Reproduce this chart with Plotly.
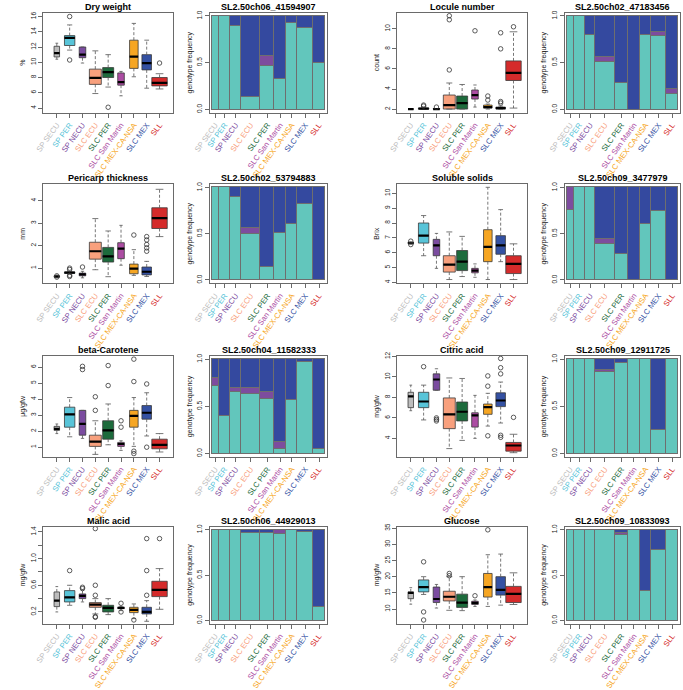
import math
import plotly.graph_objects as go

W, H = 683, 690

# ---------------- categories ----------------
groups = ["SP SECU", "SP PER", "SP NECU", "SLC ECU", "SLC PER",
          "SLC San Martin", "SLC MEX-CA-NSA", "SLC MEX", "SLL"]
group_colors = ["#BDBDBD", "#58C4D8", "#7B4CA0", "#F8A07D", "#1D6B3C",
                "#AC4DA3", "#F6A623", "#3451A3", "#D52B2B"]
# sample sizes (box widths ~ sqrt(n); mosaic bar widths ~ n)
box_n = [7, 25, 10, 33, 28, 10, 17, 21, 55]
bar_n = [6, 10, 9, 17, 12, 10, 10, 13, 11]

# ---------------- boxplot data: [lower whisker, q1, median, q3, upper whisker] ----------------
dry_stats = [[10.4, 10.7, 11.2, 12.1, 12.5], [11.6, 12.2, 13.2, 13.5, 14.9], [9.9, 10.6, 11.0, 12.0, 12.0],
             [5.9, 7.1, 7.95, 9.1, 11.5], [6.75, 8.0, 8.7, 9.3, 11.0], [5.6, 7.0, 7.4, 8.6, 8.8],
             [8.1, 9.2, 10.75, 12.9, 15.1], [6.6, 9.0, 9.9, 11.0, 12.9], [6.5, 6.9, 7.3, 8.0, 8.5]]
dry_out = [[], [16.0, 10.3], [], [], [4.1], [], [], [], [9.9]]

loc_stats = [[2.0, 2.0, 2.0, 2.0, 2.0], [2.0, 2.0, 2.05, 2.1, 2.2], [2.0, 2.0, 2.0, 2.05, 2.05],
             [2.0, 2.0, 2.4, 3.4, 4.6], [2.0, 2.0, 2.6, 3.3, 4.45], [2.2, 3.0, 3.4, 3.9, 4.4],
             [2.0, 2.1, 2.2, 2.4, 2.5], [2.0, 2.0, 2.1, 2.2, 2.3], [2.1, 4.85, 5.6, 6.8, 9.7]]
loc_out = [[], [2.3, 2.4], [2.2], [5.9, 10.9, 11.3], [], [9.8], [2.9, 3.3], [2.6, 2.75, 8.0, 9.6], [10.2]]

per_stats = [[0.6, 0.6, 0.63, 0.66, 0.66], [0.75, 0.77, 0.8, 0.83, 0.86], [0.57, 0.66, 0.72, 0.78, 0.86],
             [0.93, 1.4, 1.75, 2.15, 3.2], [0.62, 1.27, 1.52, 1.92, 2.65], [1.13, 1.42, 1.87, 2.13, 2.9],
             [0.68, 0.75, 0.98, 1.18, 1.82], [0.63, 0.7, 0.84, 1.05, 1.3], [2.4, 2.76, 3.22, 3.68, 4.5]]
per_out = [[0.6, 0.66], [1.0, 0.94, 0.68, 0.63], [1.05], [], [], [], [2.47],
           [1.75, 1.9, 2.05, 2.25, 2.4], []]

sol_stats = [[6.6, 6.6, 6.65, 6.72, 6.72], [5.8, 6.65, 7.15, 8.0, 8.5], [4.95, 5.8, 6.5, 6.9, 7.3],
             [4.2, 4.7, 5.2, 5.8, 7.4], [4.4, 4.8, 5.4, 6.15, 7.1], [4.35, 4.65, 4.8, 4.95, 5.25],
             [4.2, 5.4, 6.4, 7.55, 10.4], [5.4, 5.9, 6.5, 7.15, 8.9], [4.2, 4.6, 5.25, 5.8, 6.6]]
sol_out = [[6.55, 6.78], [], [], [], [], [], [], [], []]

bcar_stats = [[1.85, 2.05, 2.15, 2.3, 2.45], [1.65, 2.25, 3.05, 3.5, 4.1], [1.55, 1.75, 2.45, 3.3, 3.3],
              [0.55, 1.05, 1.35, 1.75, 2.65], [1.15, 1.5, 2.05, 2.65, 3.7], [0.8, 1.05, 1.2, 1.3, 1.4],
              [1.05, 2.25, 2.95, 3.3, 4.1], [1.7, 2.75, 3.15, 3.6, 4.4], [0.7, 0.9, 1.15, 1.5, 1.85]]
bcar_out = [[], [], [5.85, 6.05], [3.3, 4.15], [4.85, 6.1], [2.25, 2.65],
            [0.6, 0.75, 5.1, 6.5], [1.0, 4.95], []]

cit_stats = [[6.7, 7.0, 8.1, 8.5, 9.2], [5.8, 7.0, 7.6, 8.5, 9.2], [8.7, 8.7, 9.75, 10.3, 10.8],
             [3.0, 4.95, 6.35, 7.95, 9.9], [3.8, 5.7, 6.6, 7.55, 9.85], [4.0, 5.1, 6.25, 6.5, 8.2],
             [5.2, 6.35, 7.05, 7.35, 8.4], [5.5, 7.1, 7.7, 8.45, 9.5], [2.6, 2.75, 3.3, 3.6, 4.4]]
cit_out = [[], [11.0], [5.7, 5.85, 6.0], [], [], [], [4.25, 9.1, 10.1],
           [4.1, 4.3, 10.3, 10.9, 11.8], [6.05]]

mal_stats = [[0.2, 0.28, 0.37, 0.5, 0.58], [0.3, 0.35, 0.42, 0.52, 0.6], [0.35, 0.4, 0.44, 0.47, 0.53],
             [0.17, 0.27, 0.31, 0.34, 0.4], [0.16, 0.2, 0.26, 0.3, 0.4], [0.22, 0.25, 0.26, 0.27, 0.28],
             [0.1, 0.19, 0.23, 0.27, 0.32], [0.06, 0.17, 0.2, 0.27, 0.37], [0.24, 0.43, 0.53, 0.66, 0.85]]
mal_out = [[], [0.82], [0.55, 0.57], [0.12, 0.13, 0.45, 0.6, 1.45], [], [0.2, 0.33], [0.08],
           [0.45, 0.82, 1.3], [1.3]]

glu_stats = [[11.5, 13.2, 15.0, 15.3, 16.6], [14.5, 15.3, 16.8, 19.0, 20.0], [10.3, 12.0, 13.1, 16.8, 17.6],
             [9.6, 12.5, 13.8, 15.5, 20.0], [9.5, 10.5, 12.0, 14.6, 20.0], [10.8, 11.4, 11.9, 12.4, 12.8],
             [10.8, 13.7, 16.8, 21.0, 26.8], [11.2, 14.3, 15.9, 20.0, 27.0], [11.4, 12.0, 14.7, 17.0, 21.2]]
glu_out = [[], [24.6, 9.1, 6.6], [], [20.3, 21.0], [], [14.1], [34.5], [], []]

# ---------------- genotype frequencies: (hom. ref, het, hom. alt) per group ----------------
geno_ch06_41594907 = [(1, 0, 0), (1, 0, 0), (0.9, 0, 0.1), (0.14, 0, 0.86), (0.47, 0.1, 0.43),
                      (0.33, 0, 0.67), (0.93, 0, 0.07), (0.87, 0, 0.13), (0.5, 0, 0.5)]
geno_ch02_47183456 = [(1, 0, 0), (1, 0, 0), (0.8, 0, 0.2), (0.51, 0.05, 0.44), (0.29, 0, 0.71),
                      (0, 0, 1), (0.8, 0, 0.2), (0.79, 0.04, 0.17), (0.17, 0.05, 0.78)]
geno_ch02_53794883 = [(1, 0, 0), (1, 0, 0), (0.89, 0, 0.11), (0.49, 0.07, 0.44), (0.14, 0, 0.86),
                      (0.5, 0, 0.5), (0.6, 0, 0.4), (0.82, 0, 0.18), (0, 0, 1)]
geno_ch09_3477979 = [(0.75, 0.25, 0), (1, 0, 0), (1, 0, 0), (0.39, 0.05, 0.56), (0.28, 0, 0.72),
                     (0, 0, 1), (0.6, 0, 0.4), (0.74, 0, 0.26), (0, 0, 1)]
geno_ch04_11582333 = [(0.72, 0.08, 0.2), (0.4, 0, 0.6), (0.65, 0.05, 0.3), (0.63, 0.07, 0.3),
                      (0.58, 0.07, 0.35), (0.05, 0.07, 0.88), (0.57, 0, 0.43), (0.97, 0, 0.03), (0.05, 0, 0.95)]
geno_ch09_12911725 = [(1, 0, 0), (1, 0, 0), (1, 0, 0), (0.86, 0.03, 0.11), (0.96, 0, 0.04),
                      (1, 0, 0), (1, 0, 0), (0.25, 0, 0.75), (1, 0, 0)]
geno_ch06_44929013 = [(1, 0, 0), (1, 0, 0), (1, 0, 0), (0.97, 0, 0.03), (0.97, 0, 0.03),
                      (0.96, 0.04, 0), (1, 0, 0), (0.98, 0, 0.02), (0.15, 0, 0.85)]
geno_ch09_10833093 = [(1, 0, 0), (1, 0, 0), (1, 0, 0), (1, 0, 0), (0.95, 0.02, 0.03),
                      (1, 0, 0), (0.33, 0, 0.67), (0.78, 0, 0.22), (1, 0, 0)]
geno_colors = ["#62C6BC", "#7D4C9E", "#34499F"]

# ---------------- layout geometry (pixels) ----------------
col_px = [(27, 160), (198, 318), (390, 523), (562, 680)]
row_px = [(9, 112), (186, 288), (363, 467), (539, 639)]

FONT = "Liberation Sans, Arial, Helvetica, sans-serif"
FRAME = "#6a6a6a"

fig = go.Figure()
layout_axes = {}
annotations = []


def dom(r, c):
    x0, x1 = col_px[c]
    y0, y1 = row_px[r]
    return [x0 / W, x1 / W], [1 - y1 / H, 1 - y0 / H]


def colored_labels():
    return [f'<span style="color:{c}">{g}</span>' for g, c in zip(groups, group_colors)]


def axis_names(k):
    return ("x" if k == 1 else f"x{k}"), ("y" if k == 1 else f"y{k}"), \
           ("xaxis" if k == 1 else f"xaxis{k}"), ("yaxis" if k == 1 else f"yaxis{k}")


def add_title(text, r, c):
    xd, yd = dom(r, c)
    annotations.append(dict(text=f"<b>{text}</b>", x=(xd[0] + xd[1]) / 2, y=yd[1], xref="paper",
                            yref="paper", xanchor="center", yanchor="bottom", showarrow=False,
                            yshift=-1, font=dict(family=FONT, size=9, color="black")))


def common_x(xd, ya, rng, tickvals):
    return dict(domain=xd, anchor=ya, range=rng, tickvals=tickvals, ticktext=colored_labels(),
                tickangle=-54, ticks="outside", ticklen=4, tickwidth=0.8, tickcolor=FRAME,
                showline=True, linecolor=FRAME, linewidth=1, mirror=True, showgrid=False,
                zeroline=False, tickfont=dict(family=FONT, size=7.7), fixedrange=True)


def common_y(yd, xa, rng, tickvals, ticktext, title):
    return dict(domain=yd, anchor=xa, range=rng, tickvals=tickvals, ticktext=ticktext,
                tickangle=-90, ticks="outside", ticklen=4, tickwidth=0.8, tickcolor=FRAME,
                showline=True, linecolor=FRAME, linewidth=1, mirror=True, showgrid=False,
                zeroline=False, tickfont=dict(family=FONT, size=6.5, color="#222"),
                title=dict(text=title, font=dict(family=FONT, size=7, color="#222"), standoff=3),
                fixedrange=True)


def add_box_panel(k, r, c, title, stats, outs, ytitle, yrange, tickvals, ticktext=None):
    xa, ya, xk, yk = axis_names(k)
    xd, yd = dom(r, c)
    nmax = max(box_n)
    widths = [1.2 * math.sqrt(n / nmax) for n in box_n]
    wx, wy, cx, cy, mx, my = [], [], [], [], [], []
    ox, oy = [], []
    for i, (s, w) in enumerate(zip(stats, widths)):
        p = i + 1
        lo, q1, med, q3, hi = s
        wx += [p, p, None, p, p, None]
        wy += [q3, hi, None, q1, lo, None]
        cx += [p - w / 4, p + w / 4, None, p - w / 4, p + w / 4, None]
        cy += [hi, hi, None, lo, lo, None]
        mx += [p - w / 2, p + w / 2, None]
        my += [med, med, None]
        for v in outs[i]:
            ox.append(p)
            oy.append(v)
    fig.add_trace(go.Scatter(x=wx, y=wy, mode="lines", xaxis=xa, yaxis=ya, showlegend=False,
                             hoverinfo="skip", line=dict(color="#555", width=0.8, dash="3px,2px")))
    fig.add_trace(go.Scatter(x=cx, y=cy, mode="lines", xaxis=xa, yaxis=ya, showlegend=False,
                             hoverinfo="skip", line=dict(color="#555", width=0.8)))
    for i, (s, w, col) in enumerate(zip(stats, widths, group_colors)):
        lo, q1, med, q3, hi = s
        fig.add_trace(go.Box(x=[i + 1], q1=[q1], median=[med], q3=[q3], lowerfence=[q1],
                             upperfence=[q3], width=w, fillcolor=col, boxpoints=False,
                             line=dict(color="#3a3a3a", width=0.8), whiskerwidth=0,
                             xaxis=xa, yaxis=ya, showlegend=False, hoverinfo="skip"))
    fig.add_trace(go.Scatter(x=mx, y=my, mode="lines", xaxis=xa, yaxis=ya, showlegend=False,
                             hoverinfo="skip", line=dict(color="black", width=2.2)))
    fig.add_trace(go.Scatter(x=ox, y=oy, mode="markers", xaxis=xa, yaxis=ya, showlegend=False,
                             hoverinfo="skip",
                             marker=dict(symbol="circle-open", size=4.5, color="#333",
                                         line=dict(width=0.8))))
    if ticktext is None:
        ticktext = [f"{v:g}" for v in tickvals]
    layout_axes[xk] = common_x(xd, ya, [-0.05, 10.05], list(range(1, 10)))
    layout_axes[yk] = common_y(yd, xa, yrange, tickvals, ticktext, ytitle)
    add_title(title, r, c)


def add_bar_panel(k, r, c, title, geno):
    xa, ya, xk, yk = axis_names(k)
    xd, yd = dom(r, c)
    total = sum(bar_n)
    centers, left = [], 0
    for n in bar_n:
        centers.append(left + n / 2)
        left += n
    for j in range(3):
        fig.add_trace(go.Bar(x=centers, y=[g[j] for g in geno], width=bar_n, xaxis=xa, yaxis=ya,
                             marker=dict(color=geno_colors[j], line=dict(color="#6e6e6e", width=1)),
                             showlegend=False, hoverinfo="skip"))
    pad = 0.015 * total
    layout_axes[xk] = common_x(xd, ya, [-pad, total + pad], centers)
    layout_axes[yk] = common_y(yd, xa, [-0.035, 1.035], [0, 0.5, 1], ["0.0", "0.5", "1.0"],
                               "genotype frequency")
    add_title(title, r, c)


add_box_panel(1, 0, 0, "Dry weight", dry_stats, dry_out, "%", [3.4, 16.5], [4, 6, 8, 10, 12, 14, 16])
add_bar_panel(2, 0, 1, "SL2.50ch06_41594907", geno_ch06_41594907)
add_box_panel(3, 0, 2, "Locule number", loc_stats, loc_out, "count", [1.65, 11.6], [2, 4, 6, 8, 10])
add_bar_panel(4, 0, 3, "SL2.50ch02_47183456", geno_ch02_47183456)

add_box_panel(5, 1, 0, "Pericarp thickness", per_stats, per_out, "mm", [0.33, 4.72], [1, 2, 3, 4])
add_bar_panel(6, 1, 1, "SL2.50ch02_53794883", geno_ch02_53794883)
add_box_panel(7, 1, 2, "Soluble solids", sol_stats, sol_out, "Brix", [3.95, 10.6], [4, 5, 6, 7, 8, 9, 10])
add_bar_panel(8, 1, 3, "SL2.50ch09_3477979", geno_ch09_3477979)

add_box_panel(9, 2, 0, "beta-Carotene", bcar_stats, bcar_out, "μg/gfw", [0.4, 6.7], [1, 2, 3, 4, 5, 6])
add_bar_panel(10, 2, 1, "SL2.50ch04_11582333", geno_ch04_11582333)
add_box_panel(11, 2, 2, "Citric acid", cit_stats, cit_out, "mg/gfw", [2.2, 12.05], [4, 6, 8, 10, 12])
add_bar_panel(12, 2, 3, "SL2.50ch09_12911725", geno_ch09_12911725)

add_box_panel(13, 3, 0, "Malic acid", mal_stats, mal_out, "mg/gfw", [0.026, 1.48],
              [0.2, 0.4, 0.6, 0.8, 1.0, 1.2, 1.4], ["0.2", "", "0.6", "", "1.0", "", "1.4"])
add_bar_panel(14, 3, 1, "SL2.50ch06_44929013", geno_ch06_44929013)
add_box_panel(15, 3, 2, "Glucose", glu_stats, glu_out, "mg/gfw", [5.5, 35.5], [10, 15, 20, 25, 30, 35])
add_bar_panel(16, 3, 3, "SL2.50ch09_10833093", geno_ch09_10833093)

fig.update_layout(width=W, height=H, margin=dict(l=0, r=0, t=0, b=0), paper_bgcolor="white",
                  plot_bgcolor="white", barmode="stack", bargap=0, showlegend=False,
                  font=dict(family=FONT), annotations=annotations, **layout_axes)

fig.write_html("out.html", config={"displayModeBar": False},
               post_script="document.body.style.margin='0';document.body.style.overflow='hidden';")
